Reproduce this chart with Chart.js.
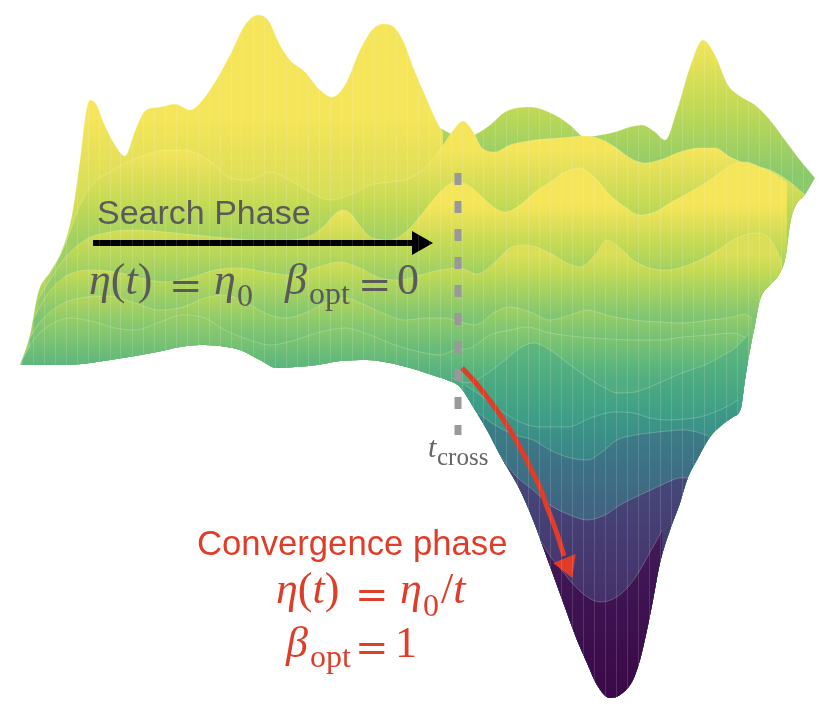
<!DOCTYPE html>
<html>
<head>
<meta charset="utf-8">
<script src="https://cdn.jsdelivr.net/npm/chart.js@4.4.1/dist/chart.umd.min.js"></script>
<style>
html,body{margin:0;padding:0;background:#fff;}
#wrap{position:relative;width:822px;height:710px;overflow:hidden;}
#c{position:absolute;left:0;top:0;}
.lbl{position:absolute;white-space:nowrap;line-height:1;}
.sans{font-family:"Liberation Sans",Arial,Helvetica,sans-serif;}
.serif{font-family:"Liberation Serif","Times New Roman",serif;}
.gray{color:#5a5a5a;}
.red{color:#df3d28;}
.eq{font-family:"DejaVu Serif",serif;}
</style>
</head>
<body>
<div id="wrap">
<canvas id="c" width="822" height="710"></canvas>
<div class="lbl sans gray" style="left:97px;top:195px;font-size:34px;">Search Phase</div>
<!-- search-phase formula -->
<div class="lbl serif gray" style="left:89px;top:258px;font-size:44px;"><i>η</i>(<i>t</i>)</div>
<div class="lbl eq gray" style="left:169px;top:265px;font-size:40px;">=</div>
<div class="lbl serif gray" style="left:214px;top:258px;font-size:44px;"><i>η</i></div>
<div class="lbl serif gray" style="left:237px;top:279px;font-size:32px;">0</div>
<div class="lbl serif gray" style="left:285px;top:258px;font-size:44px;"><i>β</i></div>
<div class="lbl serif gray" style="left:309px;top:277px;font-size:32px;">opt</div>
<div class="lbl eq gray" style="left:358px;top:264px;font-size:40px;">=</div>
<div class="lbl serif gray" style="left:397px;top:258px;font-size:44px;">0</div>
<!-- t_cross -->
<div class="lbl serif" style="left:428px;top:432px;font-size:30px;color:#666;"><i>t</i></div>
<div class="lbl serif" style="left:437px;top:444px;font-size:25px;color:#666;">cross</div>
<!-- convergence -->
<div class="lbl sans red" style="left:197px;top:526px;font-size:34.7px;">Convergence phase</div>
<div class="lbl serif red" style="left:276px;top:567px;font-size:44px;"><i>η</i>(<i>t</i>)</div>
<div class="lbl eq red" style="left:355px;top:574px;font-size:40px;">=</div>
<div class="lbl serif red" style="left:400px;top:567px;font-size:44px;"><i>η</i></div>
<div class="lbl serif red" style="left:423px;top:589px;font-size:32px;">0</div>
<div class="lbl serif red" style="left:441px;top:567px;font-size:44px;">/<i>t</i></div>
<div class="lbl serif red" style="left:286px;top:621px;font-size:44px;"><i>β</i></div>
<div class="lbl serif red" style="left:310px;top:640px;font-size:32px;">opt</div>
<div class="lbl eq red" style="left:355px;top:627px;font-size:40px;">=</div>
<div class="lbl serif red" style="left:395px;top:621px;font-size:44px;">1</div>
</div>
<script>
// ---- data: projected outline / ridge lines of the loss surface (x, y) ----
const bottomEdge = [[20,365],[45,365],[67,365],[90,363],[110,360],[135,356],[157,352],[180,347],[200,345],[220,346],[240,350],[260,360],[277,368],[295,367],[317,365],[340,361],[367,360],[390,363],[417,370],[435,376],[447,380],[460,387],[475,410],[487,430],[500,455],[520,490],[535,525],[543,547],[555,580],[567,613],[577,640],[587,663],[597,685],[610,698],[620,695],[633,680],[640,660],[647,630],[653,600],[660,563],[670,530],[680,503],[687,480],[698,458],[710,437],[722,425],[733,417],[741,408],[745,380],[750,350],[755,325],[760,300],[770,285],[780,273],[786,255],[790,225],[795,207],[805,195],[815,178]];
const backRight = [[440,128],[452,134],[465,138],[478,133],[490,125],[505,112],[530,107],[555,115],[570,125],[585,137],[600,135],[615,132],[630,127],[642,125],[655,132],[665,140],[677,110],[690,67],[703,40],[715,55],[728,85],[740,96],[755,105],[770,120],[785,140],[800,160],[815,178]];
const backLeft = [[20,365],[30,335],[38,293],[50,272],[62,250],[72,215],[80,160],[86,112],[90,100],[96,104],[105,126],[115,145],[125,156],[135,131],[145,111],[160,107],[175,104],[190,110],[200,103],[215,82],[230,55],[245,25],[258,15],[268,20],[280,45],[290,60],[305,72],[320,90],[332,97],[345,85],[360,50],[372,30],[383,24],[395,28],[405,45],[413,67],[425,95],[435,118],[443,133]];
const ridge1 = [[50,275],[65,245],[80,205],[95,182],[110,172],[127,162],[145,155],[165,150],[185,150],[200,155],[215,165],[230,178],[250,180],[270,172],[290,180],[310,192],[330,200],[350,195],[370,185],[390,182],[410,178],[425,168],[440,150],[452,132],[463,121],[472,130],[482,148],[495,152],[510,145],[535,140],[560,138],[585,136],[600,139],[615,147],[630,158],[645,163],[660,160],[680,152],[700,148],[715,148],[730,157],[750,165],[770,170],[790,182],[805,195]];
const ridge2 = [[38,300],[50,280],[65,258],[85,240],[110,232],[135,230],[165,232],[195,235],[225,238],[255,240],[285,240],[310,236],[325,225],[335,214],[343,210],[351,214],[360,226],[372,238],[390,240],[410,228],[425,210],[440,192],[455,182],[468,185],[480,195],[495,208],[505,212],[520,205],[535,192],[550,182],[565,172],[580,168],[595,178],[610,195],[625,207],[640,215],[655,212],[670,203],[690,192],[710,180],[730,166],[745,162],[760,167],[775,175],[787,183]];
const ridge3 = [[33,320],[45,298],[63,278],[90,270],[115,272],[140,278],[165,282],[190,278],[215,270],[240,268],[265,272],[290,275],[315,268],[340,262],[360,268],[380,278],[400,280],[420,275],[440,270],[460,268],[477,274],[495,262],[510,248],[525,245],[550,253],[565,262],[580,267],[595,255],[607,240],[620,248],[633,260],[650,268],[667,270],[685,266],[700,260],[718,250],[733,240],[748,234],[760,233],[773,243],[782,262]];
const ridge4 = [[30,338],[40,322],[60,305],[80,298],[110,296],[135,303],[160,310],[183,307],[205,298],[225,295],[245,302],[265,313],[285,318],[305,313],[325,303],[345,298],[365,305],[385,314],[405,320],[425,318],[445,318],[460,322],[475,325],[495,312],[510,307],[530,312],[550,320],[570,315],[587,310],[610,316],[633,320],[660,322],[683,323],[710,320],[733,317],[745,314],[752,318]];
const ridge5 = [[22,360],[35,338],[50,325],[70,318],[95,322],[115,328],[135,330],[160,322],[183,315],[205,318],[225,330],[250,340],[270,345],[295,340],[320,332],[345,328],[370,335],[395,345],[420,352],[440,355],[455,350],[470,348],[490,335],[510,330],[527,327],[550,333],[580,337],[610,339],[633,340],[660,340],[683,337],[710,335],[733,333],[747,338]];
const valley1 = [[452,378],[467,383],[485,375],[505,360],[520,348],[533,343],[550,350],[570,365],[587,377],[605,388],[617,393],[635,392],[650,387],[670,378],[690,370],[705,365],[720,357],[735,348],[748,335]];
const valley2 = [[465,385],[480,395],[500,410],[520,422],[540,427],[567,427],[593,417],[615,412],[633,413],[650,418],[667,420],[685,419],[700,417],[715,412],[728,406],[738,400]];
const valley3 = [[478,413],[495,425],[515,435],[533,440],[550,450],[567,457],[587,460],[602,452],[617,440],[635,435],[650,433],[668,431],[683,430],[697,432],[708,436]];
const valley4 = [[500,455],[515,475],[533,490],[550,505],[570,515],[587,520],[605,515],[620,505],[640,495],[655,488],[668,482],[680,478],[688,478]];
const valley5 = [[541,541],[550,556],[560,568],[572,583],[586,596],[600,602],[615,598],[628,587],[640,570],[650,552],[658,538],[662,530]];
// annotations
const searchArrow = [[93,243],[414,243]];
const searchArrowHead = [[419,243]];
const crossLine = [[458,173],[458,435]];
const convergeArrow = [[462,368],[475,382],[487,397],[499,413],[510,430],[522,451],[533,473],[541,490],[547,507],[554,525],[560,543],[564,556]];
const convergeArrowHead = [[567,565]];

// ---- styling ----
const VIR = [[68,1,84],[72,36,117],[65,68,135],[53,95,141],[42,120,142],[33,145,140],[34,168,132],[68,191,112],[122,209,81],[189,223,38],[253,231,37]];
function vir(t){
  t = Math.max(0, Math.min(1, t));
  const s = t*10, i = Math.min(9, Math.floor(s)), f = s - i;
  const a = VIR[i], b = VIR[i+1];
  const c = [0,1,2].map(k => a[k] + (b[k]-a[k])*f);
  const lum = 0.3*c[0] + 0.59*c[1] + 0.11*c[2];
  const L = 0.05*t;
  return 'rgb(' + c.map(v => Math.round((v*0.75 + lum*0.25)*(1-L) + 255*L)).join(',') + ')';
}
function grad(y0, t0, y1, t1){
  return function(ctx){
    const chart = ctx.chart;
    const ys = chart.scales && chart.scales.y;
    if (!chart.chartArea || !ys) return vir((t0+t1)/2);
    const p0 = ys.getPixelForValue(y0), p1 = ys.getPixelForValue(y1);
    const g = chart.ctx.createLinearGradient(0, p0, 0, p1);
    for (let k = 0; k <= 10; k++) g.addColorStop(k/10, vir(t0 + (t1-t0)*k/10));
    return g;
  };
}
const pts = a => a.map(p => ({x:p[0], y:p[1]}));
const layers = [
  [backRight, grad(40,1.0,175,0.80)],
  [backLeft,  grad(120,1.0,380,0.80)],
  [ridge1,    grad(150,1.0,240,0.84)],
  [ridge2,    grad(205,1.0,280,0.82)],
  [ridge3,    grad(255,0.95,320,0.77)],
  [ridge4,    grad(295,0.88,350,0.72)],
  [ridge5,    grad(320,0.82,380,0.66)],
  [valley1,   grad(340,0.71,430,0.57)],
  [valley2,   grad(400,0.59,460,0.47)],
  [valley3,   grad(415,0.45,510,0.32)],
  [valley4,   grad(480,0.20,600,0.12)],
  [valley5,   grad(545,0.05,700,0.00)]
];
const datasets = [{
  label:'front edge', data: pts(bottomEdge), borderColor:'rgba(0,0,0,0)', borderWidth:0,
  pointRadius:0, fill:false, cubicInterpolationMode:'monotone', order:200
}];
layers.forEach((l, i) => {
  datasets.push({
    label:'surface '+i, data: pts(l[0]), backgroundColor: l[1],
    borderColor:'rgba(255,255,225,0.22)', borderWidth:1, pointRadius:0,
    fill:{target:0}, cubicInterpolationMode:'monotone', order:100 - i
  });
});
datasets.push(
  {label:'cross', data:pts(crossLine), borderColor:'#999999', borderWidth:7, borderDash:[12,16], pointRadius:0, fill:false, order:3},
  {label:'search', data:pts(searchArrow), borderColor:'#000', borderWidth:6, pointRadius:0, fill:false, order:2},
  {label:'searchHead', data:pts(searchArrowHead), showLine:false, pointStyle:'triangle', pointRadius:14, pointRotation:90, pointBackgroundColor:'#000', pointBorderColor:'#000', pointBorderWidth:0, order:1},
  {label:'converge', data:pts(convergeArrow), borderColor:'#e03c27', borderWidth:5, pointRadius:0, fill:false, tension:0.4, order:2},
  {label:'convergeHead', data:pts(convergeArrowHead), showLine:false, pointStyle:'triangle', pointRadius:14, pointRotation:158, pointBackgroundColor:'#e03c27', pointBorderColor:'#e03c27', pointBorderWidth:0, order:1}
);

new Chart(document.getElementById('c'), {
  type:'line',
  data:{datasets},
  options:{
    responsive:false, animation:false, events:[],
    layout:{padding:0, autoPadding:false},
    plugins:{legend:{display:false}, tooltip:{enabled:false}},
    scales:{
      x:{type:'linear', min:0, max:822, display:true, position:'bottom',
         ticks:{display:false, stepSize:11, autoSkip:false},
         grid:{drawTicks:false, color:'rgba(255,255,255,0.14)', lineWidth:1, z:1},
         border:{display:false}, title:{display:false}},
      y:{type:'linear', min:0, max:710, reverse:true, display:false}
    }
  }
});
</script>
</body>
</html>
